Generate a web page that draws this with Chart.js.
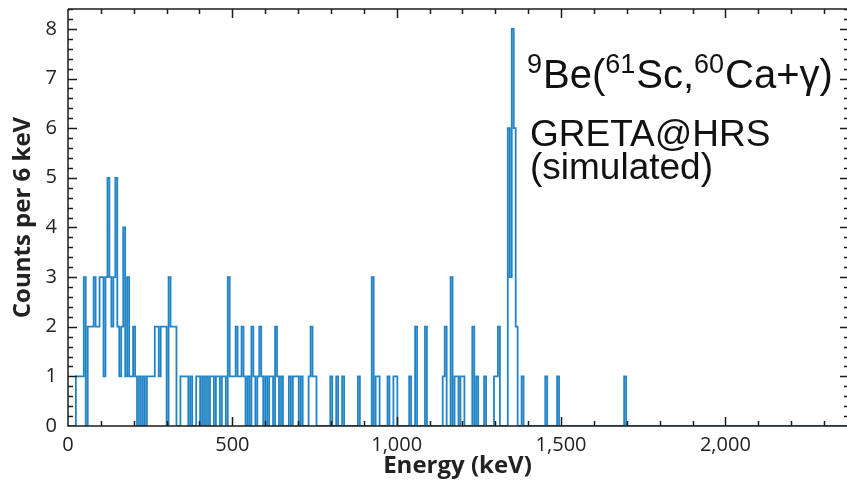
<!DOCTYPE html>
<html>
<head>
<meta charset="utf-8">
<title>9Be(61Sc,60Ca+γ) spectrum</title>
<script src="https://cdn.jsdelivr.net/npm/chart.js@4.4.1/dist/chart.umd.min.js"></script>
<style>
  html, body { margin: 0; padding: 0; background: #fff; overflow: hidden; }
  canvas { display: block; }
</style>
</head>
<body>
<canvas id="spectrum" width="847" height="486"></canvas>
<script>
// 6 keV bins, only the non-empty ones are listed (bin start in keV)
const binWidth = 6;
const energyMax = 2370;
const countMax = 8.4;

const binStarts = [24, 30, 36, 42, 48, 60, 66, 72, 78, 84, 90, 96, 102, 108, 114, 120, 126, 132, 138, 144,
  150, 156, 162, 168, 174, 180, 186, 192, 198, 204, 216, 228, 240, 246, 252, 258, 264, 270, 276, 282,
  288, 294, 306, 312, 318, 324, 342, 348, 354, 360, 372, 390, 396, 408, 420, 432, 438, 450, 456, 468,
  474, 486, 492, 498, 504, 510, 516, 522, 528, 534, 546, 558, 564, 576, 582, 588, 600, 612, 618, 630,
  636, 648, 672, 684, 690, 696, 708, 732, 738, 744, 750, 798, 816, 834, 882, 924, 936, 942, 972, 990,
  996, 1038, 1056, 1086, 1140, 1146, 1164, 1176, 1182, 1194, 1200, 1230, 1242, 1266, 1296, 1302, 1308,
  1338, 1344, 1350, 1356, 1362, 1380, 1452, 1488, 1692];

const binCounts = [1, 1, 1, 1, 3, 2, 2, 2, 3, 2, 2, 3, 3, 1, 3, 5, 3, 2, 3, 5,
  2, 1, 2, 4, 1, 3, 1, 1, 2, 1, 1, 1, 1, 1, 1, 1, 2, 2, 1, 2,
  2, 2, 3, 2, 2, 2, 1, 1, 1, 1, 1, 1, 1, 1, 1, 1, 1, 1, 1, 1,
  1, 3, 1, 1, 1, 2, 1, 1, 2, 1, 1, 2, 1, 1, 2, 1, 1, 1, 1, 2,
  1, 1, 1, 1, 1, 1, 1, 1, 2, 1, 1, 1, 1, 1, 1, 3, 1, 1, 1, 1,
  1, 1, 2, 2, 1, 2, 3, 1, 1, 1, 1, 2, 1, 1, 1, 1, 2,
  6, 3, 8, 6, 2, 1, 1, 1, 1];

const xTickValues = [0, 500, 1000, 1500, 2000];
const yTickValues = [0, 1, 2, 3, 4, 5, 6, 7, 8];

// reaction label, pieces flagged true are superscripts
const reactionParts = [["9", true], ["Be(", false], ["61", true], ["Sc,", false], ["60", true], ["Ca+γ)", false]];
const setupLines = ["GRETA@HRS", "(simulated)"];

// full histogram, empty bins are zero
const nBins = Math.ceil(energyMax / binWidth);
const counts = new Array(nBins).fill(0);
binStarts.forEach((e, i) => { counts[e / binWidth] = binCounts[i]; });

const steps = counts.map((c, i) => ({ x: i * binWidth, y: c }));
steps.push({ x: nBins * binWidth, y: counts[nBins - 1] });

const axisColor = "#1c1c1c";
const lineBlue = "rgb(34, 132, 197)";

// box around the plot with inward ticks on all sides
const frame = {
  id: "frame",
  afterDatasetsDraw(chart) {
    const { ctx, chartArea: a, scales: { x, y } } = chart;
    const rightAxis = a.right + 2;
    ctx.save();
    ctx.strokeStyle = axisColor;
    ctx.lineWidth = 1.5;
    ctx.beginPath();
    ctx.moveTo(a.left, a.top);
    ctx.lineTo(a.left, a.bottom);
    ctx.lineTo(rightAxis, a.bottom);
    ctx.moveTo(a.left, a.top);
    ctx.lineTo(rightAxis, a.top);
    for (let e = 100; e <= energyMax; e += 100) {
      const px = Math.round(x.getPixelForValue(e)) + 0.5;
      const len = e % 500 === 0 ? 9 : 5;
      ctx.moveTo(px, a.bottom);
      ctx.lineTo(px, a.bottom - len);
      ctx.moveTo(px, a.top);
      ctx.lineTo(px, a.top + len);
    }
    for (let k = 1; k / 5 <= countMax; k++) {
      const py = Math.round(y.getPixelForValue(k / 5)) + 0.5;
      const len = k % 5 === 0 ? 9 : 5;
      ctx.moveTo(a.left, py);
      ctx.lineTo(a.left + len, py);
      ctx.moveTo(rightAxis, py);
      ctx.lineTo(rightAxis - len, py);
    }
    ctx.stroke();
    ctx.restore();
  }
};

const labels = {
  id: "labels",
  afterDraw(chart) {
    const ctx = chart.ctx;
    ctx.save();
    ctx.fillStyle = "#111";
    ctx.textBaseline = "alphabetic";
    ctx.textAlign = "left";
    let x = 527;
    reactionParts.forEach(([txt, sup]) => {
      ctx.font = sup ? '27px "Liberation Sans"' : '40px "Liberation Sans"';
      ctx.fillText(txt, x, sup ? 73 : 88);
      x += ctx.measureText(txt).width + (sup ? 1 : 0);
    });
    ctx.font = '37px "Liberation Sans"';
    ctx.fillText(setupLines[0], 530, 146);
    ctx.fillText(setupLines[1], 530, 179);
    ctx.restore();
  }
};

new Chart(document.getElementById("spectrum"), {
  type: "line",
  data: {
    datasets: [{
      data: steps,
      stepped: true,
      borderColor: lineBlue,
      borderWidth: 1.8,
      pointRadius: 0,
      fill: false
    }]
  },
  options: {
    responsive: false,
    devicePixelRatio: 1,
    animation: false,
    layout: { padding: { top: 9, right: 0, left: 0, bottom: 0 } },
    plugins: { legend: { display: false }, tooltip: { enabled: false } },
    scales: {
      x: {
        type: "linear",
        min: 0,
        max: energyMax,
        grid: { display: false, drawTicks: false },
        border: { display: false },
        afterBuildTicks(scale) { scale.ticks = xTickValues.map(v => ({ value: v })); },
        ticks: {
          autoSkip: false,
          maxRotation: 0,
          padding: 7,
          color: "#222",
          font: { family: "Open Sans", size: 20 }
        },
        title: {
          display: true,
          text: "Energy (keV)",
          color: "#222",
          padding: { top: 0, bottom: 5 },
          font: { family: "Open Sans", size: 24, weight: "bold" }
        },
        afterFit(scale) {
          scale.height = 60;
          scale.paddingLeft = 0;
          scale.paddingRight = 0;
        }
      },
      y: {
        min: 0,
        max: countMax,
        grid: { display: false, drawTicks: false },
        border: { display: false },
        afterBuildTicks(scale) { scale.ticks = yTickValues.map(v => ({ value: v })); },
        ticks: {
          autoSkip: false,
          padding: 11,
          color: "#222",
          font: { family: "Open Sans", size: 20 }
        },
        title: {
          display: true,
          text: "Counts per 6 keV",
          color: "#222",
          padding: { top: 9, bottom: 0 },
          font: { family: "Open Sans", size: 24, weight: "bold" }
        },
        afterFit(scale) {
          scale.width = 68;
          // tick labels sit inside the plot height, no extra room needed
          scale.paddingTop = 0;
          scale.paddingBottom = 0;
        }
      }
    }
  },
  plugins: [frame, labels]
});
</script>
</body>
</html>
